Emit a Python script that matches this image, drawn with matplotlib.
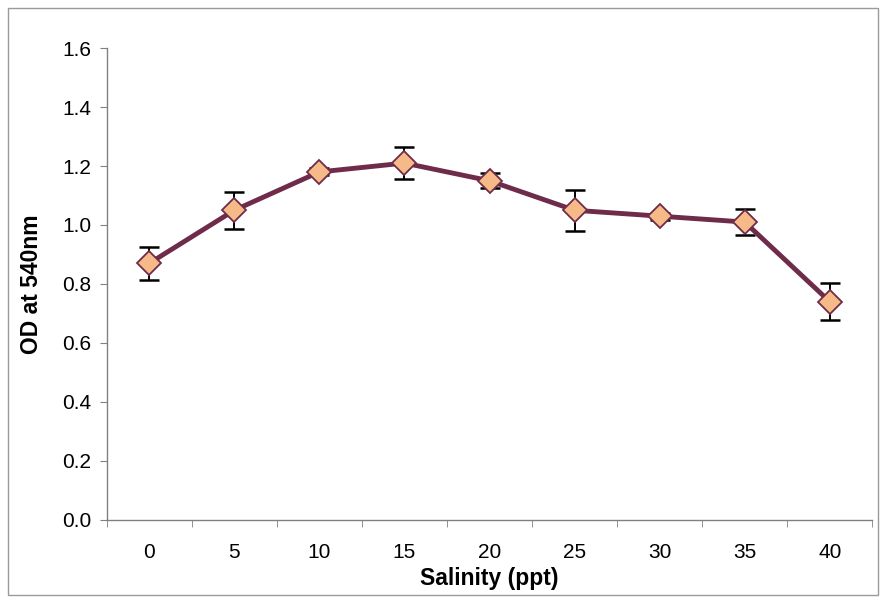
import matplotlib
matplotlib.use("Agg")
import matplotlib.pyplot as plt
from matplotlib.patches import Rectangle

plt.rcParams["font.family"] = ["Liberation Sans", "DejaVu Sans"]

salinity = ["0", "5", "10", "15", "20", "25", "30", "35", "40"]
od540 = [0.87, 1.05, 1.18, 1.21, 1.15, 1.05, 1.03, 1.01, 0.74]
od_err = [0.055, 0.062, 0.012, 0.053, 0.025, 0.07, 0.012, 0.045, 0.062]

fig = plt.figure(figsize=(8.82, 6.01), dpi=100)
ax = fig.add_axes([0.121, 0.135, 0.868, 0.785])

xs = list(range(len(salinity)))
ax.errorbar(xs, od540, yerr=od_err, fmt="none", ecolor="black",
            elinewidth=1.4, capsize=7, capthick=1.8, zorder=2)
ax.plot(xs, od540, color="#6E2B4A", linewidth=3.5, zorder=3)
ax.plot(xs, od540, linestyle="none", marker="D", markersize=12,
        markerfacecolor="#F6BA88", markeredgecolor="#6E2B4A",
        markeredgewidth=1.3, zorder=4)

ax.set_xlim(-0.5, len(salinity) - 0.5)
ax.set_ylim(0, 1.6)
ax.set_yticks([0.0, 0.2, 0.4, 0.6, 0.8, 1.0, 1.2, 1.4, 1.6])
ax.set_yticklabels([f"{v:.1f}" for v in ax.get_yticks()])

# category axis: labels centred, tick marks between categories
ax.set_xticks(xs)
ax.set_xticklabels(salinity)
ax.set_xticks([x - 0.5 for x in xs] + [len(xs) - 0.5], minor=True)
ax.tick_params(axis="x", which="major", length=0, pad=17)
ax.tick_params(axis="x", which="minor", length=5, color="#808080", direction="out")
ax.tick_params(axis="y", length=5, color="#808080", direction="out", pad=6)
ax.tick_params(labelsize=15)

for side in ("top", "right"):
    ax.spines[side].set_visible(False)
for side in ("left", "bottom"):
    ax.spines[side].set_color("#808080")
    ax.spines[side].set_linewidth(1)

ax.set_xlabel("Salinity (ppt)", fontsize=16.5, fontweight="bold", labelpad=3)
ax.set_ylabel("OD at 540nm", fontsize=16.5, fontweight="bold", labelpad=14)

fig.patches.append(Rectangle((0.009, 0.01), 0.987, 0.977, transform=fig.transFigure,
                             fill=False, edgecolor="#9a9a9a", linewidth=1))

fig.savefig("out.png", dpi=100)
